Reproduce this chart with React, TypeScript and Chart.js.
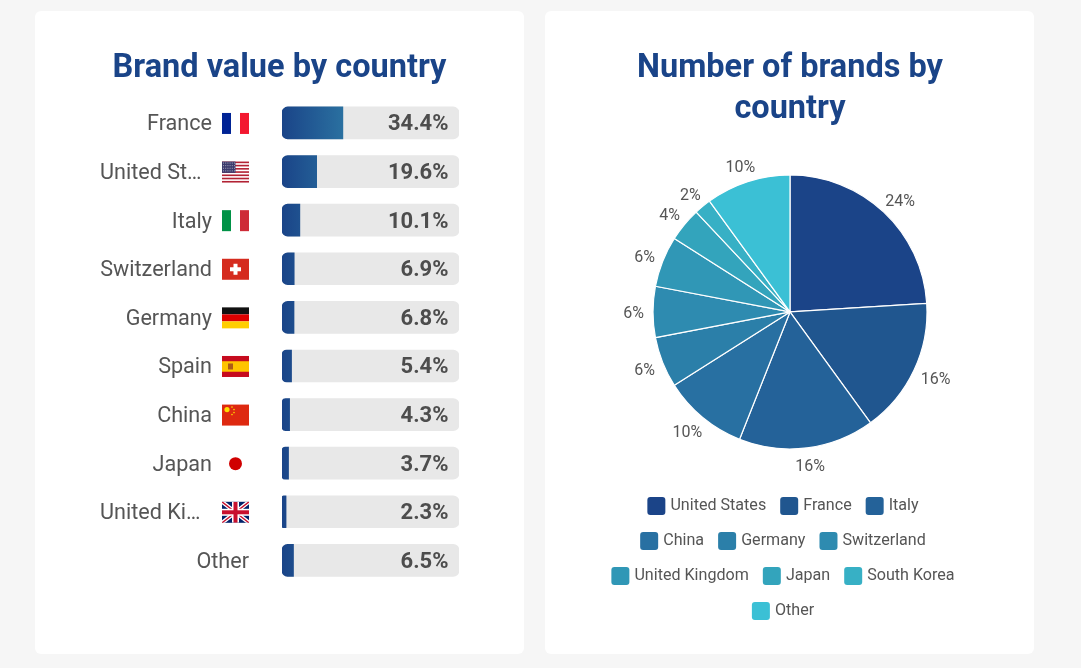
import React, { useEffect, useRef } from "react";
import { Chart, registerables } from "chart.js";

Chart.register(...registerables);

const barCategories = ["France", "United States", "Italy", "Switzerland", "Germany", "Spain", "China", "Japan", "United Kingdom", "Other"];
const barShownLabels = ["France", "United St…", "Italy", "Switzerland", "Germany", "Spain", "China", "Japan", "United Ki…", "Other"];
const barFlags = ["fr", "us", "it", "ch", "de", "es", "cn", "jp", "gb", ""];
const barValues = [34.4, 19.6, 10.1, 6.9, 6.8, 5.4, 4.3, 3.7, 2.3, 6.5];
const barTrack = [100, 100, 100, 100, 100, 100, 100, 100, 100, 100];

const pieCategories = ["United States", "France", "Italy", "China", "Germany", "Switzerland", "United Kingdom", "Japan", "South Korea", "Other"];
const pieValues = [24, 16, 16, 10, 6, 6, 6, 4, 2, 10];
const pieColors = ["#1b4488", "#20568f", "#246299", "#2870a2", "#2b7fa9", "#2e8bb0", "#3097b6", "#33a4bc", "#37b0c5", "#3bc0d5"];

const TITLE_COLOR = "#1a4488";
const TEXT_COLOR = "#555555";
const FONT = "Roboto";

function drawFlag(ctx: CanvasRenderingContext2D, code: string, x: number, cy: number) {
  const w = 27, h = 21, y = cy - h / 2;
  const rect = (c: string, rx: number, ry: number, rw: number, rh: number) => {
    ctx.fillStyle = c;
    ctx.fillRect(rx, ry, rw, rh);
  };
  ctx.save();
  if (code === "fr" || code === "it") {
    const [a, b] = code === "fr" ? ["#002395", "#f31830"] : ["#009246", "#ce2b37"];
    rect(a, x, y, w / 3, h);
    rect(b, x + (2 * w) / 3, y, w / 3, h);
  } else if (code === "us") {
    for (let i = 0; i < 7; i++) rect("#b22234", x, y + (i * 2 * h) / 13, w, h / 13);
    rect("#3c3b6e", x, y, w * 0.5, (7 * h) / 13);
    ctx.fillStyle = "#aab";
    for (let r = 0; r < 4; r++) for (let c = 0; c < 6; c++) ctx.fillRect(x + 1 + c * 2.2, y + 1 + r * 2.6, 1, 1);
  } else if (code === "ch") {
    rect("#d52b1e", x, y, w, h);
    rect("#ffffff", x + w / 2 - 5.5, cy - 2, 11, 4);
    rect("#ffffff", x + w / 2 - 2, cy - 5.5, 4, 11);
  } else if (code === "de") {
    rect("#111111", x, y, w, h / 3);
    rect("#dd0000", x, y + h / 3, w, h / 3);
    rect("#ffce00", x, y + (2 * h) / 3, w, h / 3);
  } else if (code === "es") {
    rect("#c60b1e", x, y, w, h);
    rect("#ffc400", x, y + h / 4, w, h / 2);
    rect("#ad5b19", x + 6, cy - 3, 5, 6);
  } else if (code === "cn") {
    rect("#de2910", x, y, w, h);
    ctx.fillStyle = "#ffde00";
    ctx.beginPath();
    ctx.arc(x + 5, y + 5, 2.6, 0, Math.PI * 2);
    [[10, 2.5], [12, 5], [12, 8], [10, 10]].forEach(([dx, dy]) => {
      ctx.moveTo(x + dx + 0.8, y + dy);
      ctx.arc(x + dx, y + dy, 0.8, 0, Math.PI * 2);
    });
    ctx.fill();
  } else if (code === "jp") {
    ctx.fillStyle = "#d00000";
    ctx.beginPath();
    ctx.arc(x + w / 2, cy, 6.5, 0, Math.PI * 2);
    ctx.fill();
  } else if (code === "gb") {
    rect("#012169", x, y, w, h);
    ctx.beginPath();
    ctx.rect(x, y, w, h);
    ctx.clip();
    ctx.strokeStyle = "#ffffff";
    ctx.lineWidth = 4;
    ctx.beginPath();
    ctx.moveTo(x, y); ctx.lineTo(x + w, y + h);
    ctx.moveTo(x + w, y); ctx.lineTo(x, y + h);
    ctx.stroke();
    ctx.strokeStyle = "#c8102e";
    ctx.lineWidth = 1.4;
    ctx.stroke();
    rect("#ffffff", x + w / 2 - 3.5, y, 7, h);
    rect("#ffffff", x, cy - 3.5, w, 7);
    rect("#c8102e", x + w / 2 - 2, y, 4, h);
    rect("#c8102e", x, cy - 2, w, 4);
  }
  ctx.restore();
}

const rowDecor = {
  id: "rowDecor",
  afterDatasetsDraw(chart: any) {
    const { ctx, scales } = chart;
    const trackLeft = scales.x.getPixelForValue(0);
    const trackRight = scales.x.getPixelForValue(100);
    ctx.save();
    barCategories.forEach((_, i) => {
      const y = scales.y.getPixelForValue(i);
      ctx.textBaseline = "middle";
      ctx.font = `700 22px ${FONT}`;
      ctx.fillStyle = "#4d4d4d";
      ctx.textAlign = "right";
      ctx.fillText(barValues[i].toFixed(1) + "%", trackRight - 10.5, y + 2);
      ctx.font = `400 21.6px ${FONT}`;
      ctx.fillStyle = TEXT_COLOR;
      const label = barShownLabels[i];
      const flag = barFlags[i];
      if (label.endsWith("…")) {
        ctx.textAlign = "left";
        ctx.fillText(label, trackLeft - 182, y + 2);
      } else {
        ctx.textAlign = "right";
        ctx.fillText(label, trackLeft - (flag ? 70 : 33), y + 2);
      }
      if (flag) drawFlag(ctx, flag, trackLeft - 60, y + 0.5);
    });
    ctx.restore();
  },
};

const pieDecor = {
  id: "pieDecor",
  afterLayout(chart: any) {
    chart.legend.left -= 7;
    chart.legend.right -= 7;
  },
  afterDatasetsDraw(chart: any) {
    const { ctx } = chart;
    const arcs = chart.getDatasetMeta(0).data;
    ctx.save();
    ctx.font = `400 16px ${FONT}`;
    ctx.fillStyle = TEXT_COLOR;
    ctx.textAlign = "center";
    ctx.textBaseline = "middle";
    arcs.forEach((arc: any, i: number) => {
      const mid = (arc.startAngle + arc.endAngle) / 2;
      const r = arc.outerRadius + 9;
      const text = pieValues[i] + "%";
      const half = ctx.measureText(text).width / 2;
      const x = arc.x + Math.cos(mid) * (r + half);
      const y = arc.y + Math.sin(mid) * (r + 8) + 2.5;
      ctx.fillText(text, x, y);
    });
    ctx.restore();
  },
  afterDraw(chart: any) {
    const { ctx, legend } = chart;
    if (!legend?.legendHitBoxes) return;
    ctx.save();
    legend.legendHitBoxes.forEach((box: any, i: number) => {
      ctx.fillStyle = pieColors[i];
      ctx.beginPath();
      ctx.roundRect(box.left, box.top + box.height / 2 - 9, 18, 18, 3);
      ctx.fill();
    });
    ctx.restore();
  },
};

const titleFont = { family: FONT, size: 32.5, weight: "bold" as const, lineHeight: 1.26 };

export default function App() {
  const barRef = useRef<HTMLCanvasElement>(null);
  const pieRef = useRef<HTMLCanvasElement>(null);

  useEffect(() => {
    document.body.style.margin = "0";
    const bar = new Chart(barRef.current!, {
      type: "bar",
      plugins: [rowDecor],
      data: {
        labels: barCategories,
        datasets: [
          {
            label: "Brand value",
            data: barValues,
            order: 0,
            grouped: false,
            barThickness: 32,
            borderRadius: { topLeft: 6, bottomLeft: 6, topRight: 0, bottomRight: 0 },
            borderSkipped: false,
            backgroundColor: (c: any) => {
              const { ctx, scales } = c.chart;
              const x = scales?.x;
              const x0 = x ? x.getPixelForValue(0) : NaN;
              const x1 = x ? x.getPixelForValue(Math.max(...barValues)) : NaN;
              if (!Number.isFinite(x0) || !Number.isFinite(x1)) return "#1a4488";
              const g = ctx.createLinearGradient(x0, 0, x1, 0);
              g.addColorStop(0, "#1a4488");
              g.addColorStop(1, "#2a70a0");
              return g;
            },
          },
          {
            label: "Track",
            data: barTrack,
            order: 1,
            grouped: false,
            barThickness: 32,
            borderRadius: 6,
            borderSkipped: false,
            backgroundColor: "#e8e8e8",
          },
        ],
      } as any,
      options: {
        animation: false,
        responsive: false,
        indexAxis: "y",
        layout: { padding: { left: 65, right: 65, bottom: 69.3 } },
        scales: {
          x: { display: false, min: 0, max: 100 },
          y: {
            grid: { display: false },
            border: { display: false },
            ticks: { display: false },
            afterFit: (s: any) => { s.width = 182; },
          },
        },
        plugins: {
          legend: { display: false },
          tooltip: { enabled: false },
          title: {
            display: true,
            text: "Brand value by country",
            color: TITLE_COLOR,
            font: titleFont,
            padding: { top: 37.5, bottom: 9.2 },
          },
        },
      } as any,
    });
    const pie = new Chart(pieRef.current!, {
      type: "pie",
      plugins: [pieDecor],
      data: {
        labels: pieCategories,
        datasets: [
          {
            data: pieValues,
            backgroundColor: pieColors,
            borderColor: "#ffffff",
            borderWidth: 1.2,
            radius: 137,
          },
        ],
      },
      options: {
        animation: false,
        responsive: false,
        layout: { padding: { bottom: 22.5 } },
        plugins: {
          tooltip: { enabled: false },
          title: {
            display: true,
            text: ["Number of brands by", "country"],
            color: TITLE_COLOR,
            font: titleFont,
            padding: { top: 37.5, bottom: 12 },
          },
          legend: {
            position: "bottom",
            labels: {
              boxWidth: 15,
              boxHeight: 21,
              padding: 14,
              color: TEXT_COLOR,
              font: { family: FONT, size: 16.1 },
              generateLabels: (chart: any) =>
                chart.data.labels.map((text: string, i: number) => ({
                  text,
                  fillStyle: "rgba(0,0,0,0)",
                  strokeStyle: "rgba(0,0,0,0)",
                  lineWidth: 0,
                  fontColor: TEXT_COLOR,
                  index: i,
                })),
            },
          },
        },
      } as any,
    });
    return () => {
      bar.destroy();
      pie.destroy();
    };
  }, []);

  const card: React.CSSProperties = {
    position: "absolute",
    top: 11,
    width: 489,
    height: 643,
    background: "#ffffff",
    borderRadius: 6,
  };
  return (
    <div style={{ position: "relative", width: 1081, height: 668, background: "#f6f6f6", overflow: "hidden" }}>
      <div style={{ ...card, left: 35 }}>
        <canvas ref={barRef} width={489} height={643} style={{ display: "block" }} />
      </div>
      <div style={{ ...card, left: 545 }}>
        <canvas ref={pieRef} width={374} height={643} style={{ display: "block", position: "absolute", left: 58, top: 0 }} />
      </div>
    </div>
  );
}
